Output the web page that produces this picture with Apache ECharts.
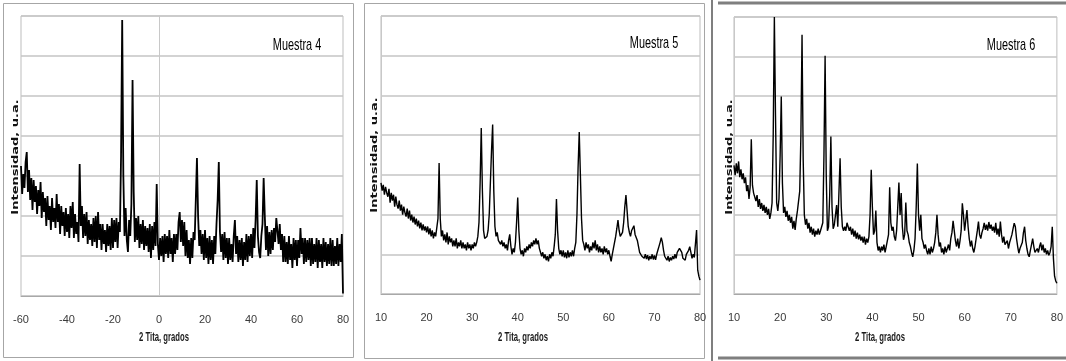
<!DOCTYPE html>
<html>
<head>
<meta charset="utf-8">
<script src="https://cdn.jsdelivr.net/npm/echarts@6/dist/echarts.min.js"></script>
<style>
html,body{margin:0;padding:0;background:#fff;}
#chart{width:1066px;height:361px;}
</style>
</head>
<body>
<div id="chart"></div>
<script>
// Panel titles and axis titles
const sampleNames = ['Muestra 4', 'Muestra 5', 'Muestra 6'];
const xTitle = '2 Tita, grados';
const yTitle = 'Intensidad, u.a.';

// 2θ scan definition for each sample (start angle, step in degrees)
const scan4 = { start: -60, step: 0.5 };
const scan5 = { start: 10, step: 0.25 };
const scan6 = { start: 10, step: 0.25 };

// x-axis tick ranges
const xRange4 = { min: -60, max: 80, interval: 20 };
const xRange5 = { min: 10, max: 80, interval: 10 };
const xRange6 = { min: 10, max: 80, interval: 10 };

// intensity (arbitrary units), one row = 5 degrees
const intensity4 = [
  3.25, 2.55, 3.05, 2.7, 3.35, 3.6, 2.6, 3.15, 2.4, 2.95,
  2.15, 2.9, 2.35, 2.75, 2.05, 2.65, 2.25, 2.85, 1.95, 2.6,
  2.1, 2.45, 1.75, 2.5, 1.9, 2.25, 1.65, 2.45, 1.85, 2.2,
  1.7, 2.55, 1.85, 2.3, 1.55, 2.25, 1.75, 2.1, 1.5, 2.2,
  1.6, 2.05, 1.45, 2.25, 1.7, 2.35, 1.45, 2.05, 1.55, 1.85,
  1.35, 3.3, 1.75, 2.25, 1.45, 2.05, 1.5, 2.1, 1.3, 1.9,
  1.4, 1.8, 1.25, 1.95, 1.35, 2.0, 1.2, 2.1, 1.4, 1.8,
  1.15, 1.8, 1.3, 1.65, 1.1, 1.8, 1.25, 1.75, 1.15, 1.95,
  1.2, 1.9, 1.35, 1.95, 1.2, 1.85, 1.6, 3.5, 6.9, 3.0,
  1.5, 2.2, 1.4, 1.1, 1.9, 1.5, 2.3, 5.4, 2.6, 1.35,
  1.95, 1.4, 2.0, 1.2, 1.8, 1.3, 1.9, 1.15, 1.75, 1.25,
  1.7, 1.1, 1.8, 0.95, 1.75, 1.15, 1.85, 1.25, 2.8, 1.3,
  0.9, 1.45, 1.0, 1.5, 0.85, 1.55, 1.05, 1.5, 0.95, 1.65,
  1.05, 1.45, 0.85, 1.55, 1.05, 1.55, 1.15, 1.85, 2.1, 1.35,
  1.9, 1.25, 1.85, 1.0, 1.65, 0.95, 1.4, 0.8, 1.45, 0.95,
  1.6, 1.4, 2.4, 3.45, 2.0, 1.25, 1.65, 1.05, 1.55, 0.9,
  1.65, 0.95, 1.45, 0.8, 1.5, 0.9, 1.4, 0.8, 1.5, 1.05,
  1.8, 2.4, 3.35, 1.6, 1.1, 1.55, 0.9, 1.6, 0.95, 1.45,
  0.8, 1.45, 0.9, 1.3, 0.85, 1.5, 1.9, 1.05, 1.5, 0.85,
  1.4, 0.9, 1.45, 0.75, 1.35, 0.9, 1.55, 0.85, 1.5, 1.0,
  1.55, 0.95, 1.7, 1.2, 1.9, 2.9, 1.5, 1.1, 0.95, 1.5,
  1.8, 2.95, 2.0, 1.15, 1.75, 1.0, 1.6, 1.05, 1.65, 1.15,
  1.7, 1.35, 1.95, 2.0, 1.3, 1.8, 1.15, 1.55, 0.85, 1.5,
  0.85, 1.35, 0.8, 1.5, 0.9, 1.3, 0.7, 1.45, 0.9, 1.4,
  0.75, 1.4, 0.95, 1.7, 1.05, 1.45, 0.8, 1.45, 0.85, 1.4,
  0.9, 1.45, 0.75, 1.45, 0.8, 1.3, 0.85, 1.45, 0.7, 1.4,
  0.85, 1.3, 0.7, 1.45, 0.85, 1.35, 0.75, 1.3, 0.8, 1.45,
  0.75, 1.4, 0.75, 1.25, 0.8, 1.45, 0.75, 1.3, 0.85, 1.55,
  0.06
];

// intensity (arbitrary units), one row = 2 degrees
const intensity5 = [
  2.8, 2.6, 2.75, 2.5, 2.7, 2.55, 2.45, 2.65,
  2.3, 2.55, 2.35, 2.5, 2.2, 2.45, 2.25, 2.15,
  2.35, 2.1, 2.25, 2.0, 2.2, 2.05, 1.95, 2.15,
  1.9, 2.1, 1.85, 2.0, 1.8, 1.95, 1.75, 1.9,
  1.7, 1.85, 1.65, 1.8, 1.6, 1.75, 1.6, 1.7,
  1.55, 1.7, 1.5, 1.65, 1.45, 1.6, 1.4, 1.55,
  1.45, 1.4, 1.9, 3.3, 1.9, 1.45, 1.6, 1.35,
  1.5, 1.3, 1.55, 1.25, 1.45, 1.3, 1.4, 1.2,
  1.35, 1.2, 1.4, 1.15, 1.3, 1.2, 1.35, 1.15,
  1.3, 1.15, 1.25, 1.1, 1.3, 1.15, 1.25, 1.1,
  1.25, 1.15, 1.3, 1.2, 1.3, 1.45, 1.8, 2.8,
  4.18, 2.6, 1.6, 1.4, 1.36, 1.45, 1.6, 2.0,
  2.8, 3.6, 4.27, 2.6, 1.7, 1.45, 1.55, 1.35,
  1.4, 1.25, 1.35, 1.2, 1.3, 1.15, 1.25, 1.1,
  1.35, 1.5, 1.2, 1.0, 1.15, 1.05, 1.3, 1.8,
  2.43, 1.6, 1.15, 1.0, 1.1, 0.95, 1.15, 1.05,
  1.2, 1.1, 1.25, 1.15, 1.3, 1.2, 1.35, 1.25,
  1.4, 1.25, 1.35, 1.15, 1.05, 0.95, 1.05, 0.9,
  1.0, 0.85, 0.95, 0.82, 1.0, 0.9, 1.05, 0.95,
  1.2, 1.5, 2.39, 1.6, 1.15, 1.0, 1.1, 0.95,
  1.1, 0.92, 1.05, 0.9, 1.1, 0.92, 1.05, 0.95,
  1.1, 0.95, 1.15, 1.3, 2.0, 3.2, 4.08, 3.0,
  1.9, 1.35, 1.25, 1.1, 1.3, 1.15, 1.25, 1.05,
  1.2, 1.1, 1.3, 1.15, 1.35, 1.1, 1.25, 1.05,
  1.2, 1.05, 1.15, 1.0, 1.2, 1.05, 1.15, 1.0,
  1.1, 0.95, 0.82, 1.0, 1.15, 1.3, 1.45, 1.65,
  1.86, 1.6, 1.45, 1.42, 1.55, 1.8, 2.2, 2.49,
  2.1, 1.7, 1.55, 1.45, 1.6, 1.55, 1.72, 1.5,
  1.55, 1.35, 1.2, 1.05, 1.1, 0.95, 1.0, 0.9,
  1.0, 0.88, 0.98, 0.85, 0.95, 0.88, 1.0, 0.87,
  0.97, 0.86, 1.0, 1.1, 1.2, 1.3, 1.42, 1.3,
  1.1, 0.95, 1.0, 0.85, 0.95, 0.82, 0.92, 0.85,
  0.95, 0.88, 1.0, 0.9, 1.05, 1.0, 1.15, 1.19,
  1.05, 0.9, 0.95, 0.85, 1.0, 0.95, 1.1, 1.19,
  1.05, 0.9, 1.0, 0.92, 0.95, 1.61, 0.6, 0.45,
  0.35
];

// intensity (arbitrary units), one row = 2 degrees
const intensity6 = [
  3.25, 3.0, 3.3, 3.05, 3.35, 2.95, 3.15, 2.9,
  3.05, 2.8, 2.95, 2.6, 2.75, 2.4, 2.7, 3.91,
  2.75, 2.55, 2.6, 2.35, 2.5, 2.2, 2.4, 2.15,
  2.3, 2.1, 2.25, 2.05, 2.2, 2.0, 2.15, 1.9,
  2.05, 2.3, 4.0, 7.0, 4.5, 2.3, 2.1, 2.4,
  3.5, 4.99, 2.8, 2.05, 2.2, 1.95, 2.1, 1.85,
  2.0, 1.8, 1.95, 1.65, 1.85, 1.62, 1.9, 2.1,
  2.1, 2.6, 4.0, 6.55, 3.4, 2.0, 1.75, 1.9,
  1.65, 1.8, 1.55, 1.7, 1.5, 1.65, 1.45, 1.6,
  1.5, 1.65, 1.5, 1.6, 1.55, 1.8, 3.5, 6.02,
  3.0, 1.6, 1.7, 2.5, 3.98, 2.2, 1.65, 1.75,
  2.0, 2.25, 1.7, 1.65, 3.43, 2.2, 1.7, 1.6,
  1.7, 1.6, 1.8, 1.85, 1.6, 1.7, 1.5, 1.65,
  1.45, 1.6, 1.4, 1.55, 1.38, 1.5, 1.35, 1.45,
  1.3, 1.45, 1.25, 1.4, 1.3, 1.45, 2.0, 3.14,
  2.2, 1.5, 1.6, 2.11, 1.3, 1.1, 1.2, 1.05,
  1.2, 1.1, 1.25, 1.05, 1.2, 1.15, 1.5, 2.7,
  1.8, 1.6, 1.7, 1.45, 1.35, 1.6, 2.2, 2.82,
  2.0, 2.55, 1.7, 1.37, 1.5, 2.31, 1.6, 1.5,
  1.3, 1.2, 1.05, 0.94, 1.1, 1.4, 2.2, 3.3,
  2.0, 1.6, 2.0, 1.4, 1.3, 1.15, 1.25, 1.1,
  1.0, 1.15, 1.0, 1.2, 1.05, 1.15, 1.3, 1.55,
  2.0, 1.5, 1.2, 1.3, 1.05, 1.15, 1.0, 1.2,
  1.05, 1.15, 1.25, 1.1, 1.4, 1.55, 1.85, 1.6,
  1.35, 1.2, 1.4, 1.15, 1.35, 1.6, 2.29, 2.0,
  1.6, 1.65, 2.12, 1.7, 1.4, 1.2, 1.35, 1.15,
  1.05, 1.2, 1.4, 1.6, 1.83, 1.5, 1.4, 1.55,
  1.65, 1.8, 1.62, 1.75, 1.6, 1.82, 1.65, 1.75,
  1.6, 1.7, 1.55, 1.8, 1.5, 1.65, 1.45, 1.83,
  1.5, 1.3, 1.45, 1.25, 1.2, 1.35, 1.15, 1.3,
  1.4, 1.5, 1.65, 1.79, 1.7, 1.4, 1.2, 1.03,
  1.15, 1.1, 1.3, 1.55, 1.7, 1.35, 1.15, 1.0,
  0.94, 1.1, 1.25, 1.4, 1.2, 1.05, 1.0, 1.15,
  1.05, 1.2, 1.3, 1.1, 1.25, 1.05, 1.15, 1.0,
  1.1, 0.98, 1.05, 1.2, 1.7, 0.9, 0.45, 0.33,
  0.27
];

// ---- layout & styling ----
const FONT_SANS = '"Liberation Sans", Arial, sans-serif';
const GRID_COLOR = '#c4c4c4';
const SQUEEZE = 0.64; // condensed look of the panel texts

function toPairs(scan, values) {
  return values.map((v, i) => [+(scan.start + i * scan.step).toFixed(3), v]);
}

const panels = [
  { grid: { left: 21, top: 16, width: 322, height: 280 }, range: xRange4, scan: scan4, values: intensity4, lw: 1.8 },
  { grid: { left: 381, top: 16, width: 319, height: 278 }, range: xRange5, scan: scan5, values: intensity5, lw: 1.4 },
  { grid: { left: 734, top: 17, width: 324, height: 277 }, range: xRange6, scan: scan6, values: intensity6, lw: 1.4 }
];

const chart = echarts.init(document.getElementById('chart'), null, { renderer: 'canvas' });

const option = {
  animation: false,
  backgroundColor: '#fff',
  grid: panels.map(p => Object.assign({
    show: true, borderColor: '#bdbdbd', borderWidth: 1, backgroundColor: '#fff', containLabel: false
  }, p.grid)),
  xAxis: panels.map((p, i) => ({
    type: 'value', gridIndex: i,
    min: p.range.min, max: p.range.max, interval: p.range.interval,
    axisLine: { show: true, onZero: false, lineStyle: { color: '#a8a8a8', width: 1 } },
    axisTick: { show: false },
    splitLine: { show: false },
    axisLabel: { show: true, margin: 18, fontSize: 11, color: '#3a3a3a', fontFamily: FONT_SANS }
  })),
  yAxis: panels.map((p, i) => ({
    type: 'value', gridIndex: i,
    min: 0, max: 7, interval: 1,
    axisLine: { show: true, onZero: true, lineStyle: { color: '#c8c8c8', width: 1 } },
    axisTick: { show: false },
    axisLabel: { show: false },
    splitLine: { show: true, lineStyle: { color: GRID_COLOR, width: 1.5 } }
  })),
  series: panels.map((p, i) => ({
    type: 'line', xAxisIndex: i, yAxisIndex: i,
    data: toPairs(p.scan, p.values),
    showSymbol: false, symbol: 'none',
    lineStyle: { color: '#000', width: p.lw, join: 'bevel' },
    silent: true
  })),
  graphic: [
    // panel frames
    { type: 'rect', shape: { x: 3.5, y: 3.5, width: 350, height: 354 }, style: { fill: null, stroke: '#a6a6a6', lineWidth: 1 }, z: -1 },
    { type: 'rect', shape: { x: 364.5, y: 3.5, width: 340, height: 355 }, style: { fill: null, stroke: '#a6a6a6', lineWidth: 1 }, z: -1 },
    { type: 'line', shape: { x1: 718, y1: 3, x2: 1066, y2: 3 }, style: { stroke: '#7f7f7f', lineWidth: 3 } },
    { type: 'line', shape: { x1: 718, y1: 358, x2: 1066, y2: 358 }, style: { stroke: '#7f7f7f', lineWidth: 3 } },
    { type: 'line', shape: { x1: 712, y1: 0, x2: 712, y2: 361 }, style: { stroke: '#7f7f7f', lineWidth: 2 } },
    // sample names
    ...[[297, 45], [654, 43], [1011, 45]].map((pos, i) => ({
      type: 'text', x: pos[0], y: pos[1], scaleX: SQUEEZE, z: 10,
      style: { text: sampleNames[i], fill: '#000', font: '17px ' + FONT_SANS, textAlign: 'center', textVerticalAlign: 'middle' }
    })),
    // x-axis titles
    ...[[164, 338], [523, 338], [880, 338]].map(pos => ({
      type: 'text', x: pos[0], y: pos[1], scaleX: SQUEEZE, z: 10,
      style: { text: xTitle, fill: '#1a1a1a', font: 'bold 12px ' + FONT_SANS, textAlign: 'center', textVerticalAlign: 'middle' }
    })),
    // y-axis titles (rotated; local y becomes screen x)
    ...[[16, 157], [375, 155], [730, 157]].map(pos => ({
      type: 'text', x: pos[0], y: pos[1], rotation: Math.PI / 2, scaleY: 0.68, z: 10,
      style: { text: yTitle, fill: '#111', font: 'bold 13px "DejaVu Sans", sans-serif', textAlign: 'center', textVerticalAlign: 'middle' }
    }))
  ]
};

chart.setOption(option);
</script>
</body>
</html>
